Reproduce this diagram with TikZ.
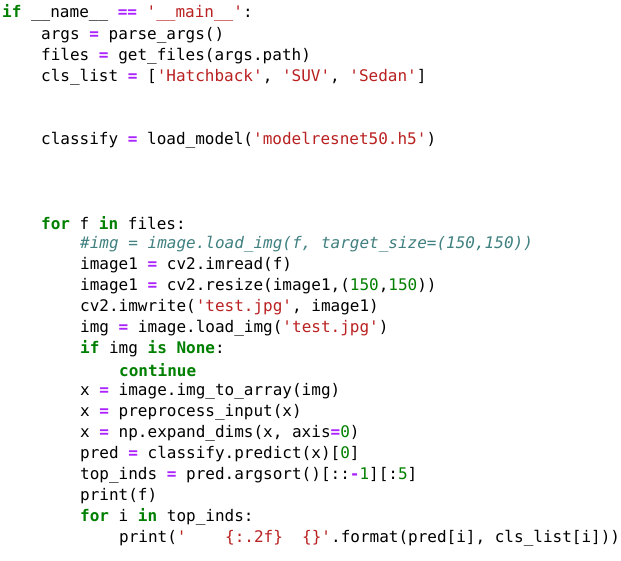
\documentclass[tikz,border=0pt]{standalone}
\usepackage{fontspec}
\newfontfamily\codefont{DejaVu Sans Mono}
\definecolor{kw}{RGB}{0,128,0}
\definecolor{st}{RGB}{186,33,33}
\definecolor{op}{RGB}{170,34,255}
\definecolor{cm}{RGB}{64,128,128}
\newcommand\K[1]{\textcolor{kw}{\bfseries #1}}
\newcommand\Ss[1]{\textcolor{st}{#1}}
\newcommand\Oo[1]{\textcolor{op}{\bfseries #1}}
\newcommand\Nn[1]{\textcolor{kw}{#1}}
\newcommand\Cm[1]{\textcolor{cm}{\itshape #1}}
\newcommand\q{\char"27\relax}
\tikzset{codeline/.style={anchor=west,inner sep=0pt,font=\codefont\fontsize{16}{19}\selectfont,text=black}}
\begin{document}
\begin{tikzpicture}[x=1pt,y=-1pt]
\useasboundingbox[fill=white] (0,0) rectangle (621,560);
\node[codeline] (l1) at (2,13) {\K{if} \_\_name\_\_ \Oo{==} \Ss{\q\_\_main\_\_\q}:};
\node[codeline] (l2) at (41,35) {args \Oo{=} parse\_args()};
\node[codeline] (l3) at (41,56) {files \Oo{=} get\_files(args.path)};
\node[codeline] (l4) at (41,77) {cls\_list \Oo{=} [\Ss{\q Hatchback\q}, \Ss{\q SUV\q}, \Ss{\q Sedan\q}]};
\node[codeline] (l7) at (41,140) {classify \Oo{=} load\_model(\Ss{\q modelresnet50.h5\q})};
\node[codeline] (l11) at (41,223) {\K{for} f \K{in} files:};
\node[codeline] (l12) at (80,244) {\Cm{\#img = image.load\_img(f, target\_size=(150,150))}};
\node[codeline] (l13) at (80,265) {image1 \Oo{=} cv2.imread(f)};
\node[codeline] (l14) at (80,286) {image1 \Oo{=} cv2.resize(image1,(\Nn{150},\Nn{150}))};
\node[codeline] (l15) at (80,307) {cv2.imwrite(\Ss{\q test.jpg\q}, image1)};
\node[codeline] (l16) at (80,328) {img \Oo{=} image.load\_img(\Ss{\q test.jpg\q})};
\node[codeline] (l17) at (80,349) {\K{if} img \K{is} \K{None}:};
\node[codeline] (l18) at (119,370) {\K{continue}};
\node[codeline] (l19) at (80,391) {x \Oo{=} image.img\_to\_array(img)};
\node[codeline] (l20) at (80,412) {x \Oo{=} preprocess\_input(x)};
\node[codeline] (l21) at (80,433) {x \Oo{=} np.expand\_dims(x, axis\Oo{=}\Nn{0})};
\node[codeline] (l22) at (80,454) {pred \Oo{=} classify.predict(x)[\Nn{0}]};
\node[codeline] (l23) at (80,475) {top\_inds \Oo{=} pred.argsort()[::\Oo{-}\Nn{1}][:\Nn{5}]};
\node[codeline] (l24) at (80,496) {print(f)};
\node[codeline] (l25) at (80,517) {\K{for} i \K{in} top\_inds:};
\node[codeline] (l26) at (119,538) {print(\Ss{\q\ \ \ \ \{:.2f\}\ \ \{\}\q}.format(pred[i], cls\_list[i]))};
\end{tikzpicture}
\end{document}
